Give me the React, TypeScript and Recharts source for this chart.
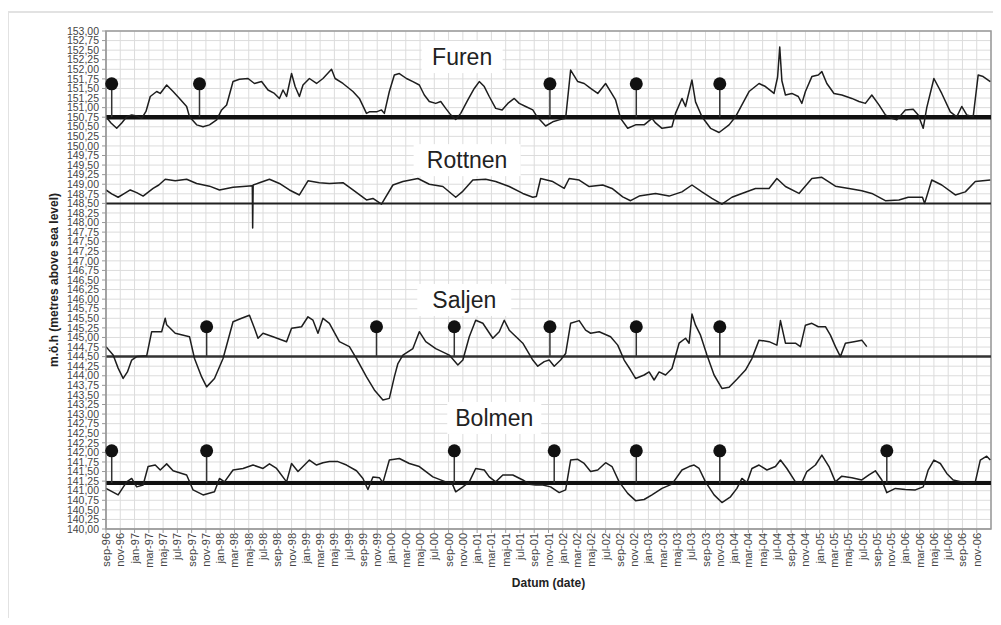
import React from "react";
import {
  ComposedChart,
  Line,
  XAxis,
  YAxis,
  CartesianGrid,
  ReferenceLine,
  ReferenceDot,
  ReferenceArea,
  Label,
} from "recharts";

// t = months after sep-96, v = water level (m.ö.h)
const furen: [number, number][] = [
  [0, 150.76], [0.7, 150.6], [1.5, 150.46], [2.2, 150.6], [2.9, 150.76], [3.6, 150.81], [4.3, 150.78], [5, 150.72],
  [5.6, 150.9], [6.2, 151.29], [7.1, 151.42], [7.6, 151.37], [8.5, 151.59], [9.4, 151.42], [10.3, 151.24], [11.3, 151.03],
  [11.7, 150.76], [12.7, 150.55], [13.6, 150.5], [14.5, 150.55], [15.5, 150.68], [16.2, 150.94], [16.9, 151.07], [17.8, 151.68],
  [18.7, 151.74], [19.9, 151.76], [20.8, 151.63], [21.8, 151.68], [22.7, 151.46], [23.6, 151.37], [24.3, 151.24], [24.8, 151.46],
  [25.3, 151.29], [26, 151.89], [26.5, 151.55], [27.1, 151.29], [27.6, 151.59], [28.5, 151.76], [29.5, 151.63], [30.4, 151.76],
  [31.6, 152.0], [32.1, 151.76], [33.2, 151.63], [34.6, 151.42], [35.5, 151.24], [36.5, 150.85], [36.9, 150.89], [37.9, 150.89],
  [38.6, 150.94], [39, 150.85], [39.7, 151.42], [40.4, 151.85], [41.1, 151.89], [42.1, 151.76], [43, 151.68], [43.9, 151.59],
  [44.6, 151.33], [45.3, 151.16], [46.2, 151.11], [46.9, 151.16], [47.6, 150.98], [48.3, 150.81], [49, 150.69], [49.7, 150.85],
  [50.7, 151.2], [51.6, 151.5], [52.3, 151.68], [53, 151.55], [53.7, 151.29], [54.6, 150.98], [55.5, 150.94], [56.3, 151.11],
  [57.2, 151.24], [57.9, 151.11], [58.8, 151.03], [59.8, 150.94], [60.4, 150.76], [61.6, 150.52], [62.6, 150.63], [63.5, 150.68],
  [64.4, 150.72], [65.1, 151.98], [66.1, 151.68], [67, 151.63], [67.9, 151.5], [68.9, 151.37], [70, 151.63], [70.7, 151.42],
  [71.4, 151.2], [72.1, 150.72], [73.1, 150.46], [74.2, 150.55], [75.4, 150.55], [76.5, 150.72], [77, 150.6], [77.9, 150.46],
  [79.3, 150.5], [79.8, 150.85], [80.7, 151.24], [81.2, 151.03], [82.1, 151.72], [82.6, 151.15], [83.5, 150.76], [84.7, 150.46],
  [85.9, 150.35], [87.3, 150.55], [88.2, 150.76], [89.1, 151.07], [90.1, 151.42], [91.5, 151.63], [92.4, 151.55], [93.6, 151.37],
  [94.1, 151.8], [94.4, 152.58], [94.7, 151.7], [95.2, 151.33], [96.1, 151.37], [97, 151.29], [97.5, 151.11], [98, 151.42],
  [98.9, 151.81], [99.8, 151.85], [100.3, 151.94], [101, 151.63], [102, 151.37], [103.1, 151.33], [104.5, 151.24], [105.5, 151.16],
  [106.4, 151.11], [107.3, 151.33], [108.3, 151.07], [109.2, 150.81], [110.1, 150.72], [110.8, 150.68], [112, 150.94], [113.1, 150.96],
  [113.8, 150.81], [114.5, 150.46], [115, 151.0], [116, 151.76], [117.1, 151.37], [118.3, 150.89], [119.2, 150.76], [119.9, 151.03],
  [120.6, 150.81], [121.5, 150.76], [122.2, 151.85], [122.9, 151.81], [123.9, 151.68],
];

const rottnen: [number, number][] = [
  [0, 148.85], [0.8, 148.75], [1.7, 148.66], [2.6, 148.76], [3.4, 148.85], [4.3, 148.78], [5.2, 148.69], [6.6, 148.89],
  [7.4, 148.98], [8.3, 149.13], [9.7, 149.09], [11.3, 149.13], [12.7, 149.02], [14.5, 148.95], [15.9, 148.85], [17.8, 148.92],
  [19.2, 148.94], [20.5, 148.96], [20.55, 147.86], [20.62, 148.98], [21.5, 149.04], [22.9, 149.13], [24.3, 149.02], [25.7, 148.85],
  [27.1, 148.72], [28.3, 149.09], [29.9, 149.04], [31.3, 149.02], [33.2, 149.04], [34.6, 148.85], [36.5, 148.59], [37.4, 148.63],
  [38.6, 148.48], [40.2, 148.98], [41.6, 149.07], [43.7, 149.15], [45.3, 149.0], [47.2, 148.94], [49, 148.66], [49.9, 148.8],
  [51.4, 149.11], [53.2, 149.13], [54.6, 149.07], [56.5, 148.94], [58.4, 148.76], [59.8, 148.66], [60.3, 148.68], [60.9, 149.15],
  [62.6, 149.07], [64.2, 148.89], [64.9, 149.15], [66.3, 149.11], [67.7, 148.94], [69.6, 148.98], [70.9, 148.89], [72.4, 148.67],
  [73.5, 148.57], [74.7, 148.69], [77, 148.76], [78.9, 148.69], [80.7, 148.8], [82.1, 148.98], [83.5, 148.8], [84.9, 148.63],
  [86.3, 148.48], [87.7, 148.66], [89.1, 148.76], [91, 148.89], [92.9, 148.89], [94, 149.15], [95.2, 148.94], [97.1, 148.76],
  [98.9, 149.15], [100.3, 149.18], [102.2, 148.95], [104.1, 148.89], [105.9, 148.83], [107.3, 148.76], [109.2, 148.57], [111.1, 148.59],
  [112.4, 148.66], [114.4, 148.66], [114.7, 148.5], [115.7, 149.11], [117.1, 148.98], [119, 148.72], [120.4, 148.8], [121.8, 149.07],
  [123.9, 149.11],
];

const saljen: [number, number][] = [
  [0, 144.76], [1, 144.54], [1.7, 144.2], [2.4, 143.93], [3, 144.1], [3.6, 144.41], [4.3, 144.5], [5.7, 144.52],
  [6.4, 145.15], [7.8, 145.15], [8.3, 145.5], [8.5, 145.33], [9.7, 145.11], [11.7, 145.02], [12.4, 144.45], [13.4, 143.97],
  [14.1, 143.71], [15.2, 143.93], [16.4, 144.45], [17.8, 145.41], [19, 145.5], [20.1, 145.58], [20.8, 145.24], [21.3, 144.98],
  [22, 145.11], [23.4, 145.02], [25.3, 144.89], [26, 145.24], [27.4, 145.28], [28.3, 145.54], [29, 145.45], [29.7, 145.11],
  [30.4, 145.5], [31.3, 145.37], [32.7, 144.89], [34.1, 144.76], [35.1, 144.45], [36.5, 143.97], [37.6, 143.63], [38.8, 143.37],
  [39.7, 143.41], [40.4, 143.97], [40.9, 144.32], [41.6, 144.54], [43, 144.71], [43.9, 145.15], [44.8, 144.89], [46.2, 144.71],
  [48.1, 144.54], [49.3, 144.28], [50, 144.41], [50.9, 145.02], [51.8, 145.45], [52.8, 145.37], [54.2, 144.98], [55.1, 145.15],
  [55.8, 145.45], [56.5, 145.19], [58.4, 144.85], [59.8, 144.41], [60.5, 144.25], [61.4, 144.37], [62.1, 144.41], [62.8, 144.25],
  [63.7, 144.41], [64.4, 144.58], [65.1, 145.37], [66.3, 145.44], [67.2, 145.19], [67.9, 145.11], [69.1, 145.15], [70.7, 145.02],
  [71.7, 144.8], [72.6, 144.41], [73.5, 144.15], [74.2, 143.93], [75.4, 144.02], [76.1, 144.1], [76.8, 143.89], [77.5, 144.1],
  [78.4, 144.02], [79.3, 144.19], [80.3, 144.85], [81.2, 144.98], [81.7, 144.85], [82.1, 145.61], [82.6, 145.32], [83.3, 145.06],
  [84.2, 144.54], [85.2, 144.02], [86.3, 143.67], [87.3, 143.7], [88.4, 143.91], [89.6, 144.15], [90.5, 144.45], [91.5, 144.93],
  [92.9, 144.89], [94, 144.8], [94.5, 145.44], [95.2, 144.85], [96.6, 144.85], [97.3, 144.76], [98, 145.32], [98.9, 145.37],
  [99.8, 145.28], [100.8, 145.28], [101.5, 145.06], [102.2, 144.76], [102.9, 144.5], [103.6, 144.85], [104.8, 144.89], [105.9, 144.93],
  [106.6, 144.76],
];

const bolmen: [number, number][] = [
  [0, 141.06], [1.7, 140.89], [2.9, 141.23], [3.6, 141.32], [4.3, 141.1], [5.2, 141.15], [5.9, 141.63], [6.9, 141.67],
  [7.6, 141.54], [8.5, 141.7], [9.4, 141.52], [11.3, 141.41], [12.2, 141.02], [13.6, 140.89], [15.2, 140.97], [15.9, 141.32],
  [16.6, 141.23], [17.8, 141.54], [19.2, 141.58], [20.6, 141.67], [22, 141.58], [22.9, 141.7], [23.9, 141.58], [25.3, 141.23],
  [26, 141.71], [26.9, 141.5], [28.5, 141.8], [29.5, 141.67], [30.4, 141.73], [31.3, 141.76], [32.5, 141.76], [33.7, 141.67],
  [35.1, 141.52], [36, 141.32], [36.7, 141.03], [37.4, 141.36], [38.3, 141.34], [38.8, 141.21], [39.7, 141.8], [41.1, 141.84],
  [42.5, 141.71], [43.9, 141.63], [45.8, 141.36], [47.6, 141.23], [48.5, 141.19], [49, 140.97], [50, 141.1], [50.9, 141.23],
  [51.8, 141.58], [53, 141.54], [53.7, 141.36], [54.6, 141.23], [55.6, 141.41], [57, 141.41], [58.4, 141.28], [59.3, 141.17],
  [60.2, 141.15], [61.2, 141.15], [62.3, 141.1], [63.5, 140.95], [64.4, 141.02], [65.1, 141.8], [66.1, 141.82], [67, 141.71],
  [67.9, 141.5], [68.9, 141.54], [70, 141.73], [70.9, 141.63], [71.9, 141.23], [73.1, 140.93], [74.2, 140.74], [75.4, 140.77],
  [76.5, 140.89], [77.9, 141.06], [79.3, 141.17], [80.7, 141.54], [81.7, 141.63], [82.4, 141.67], [83.1, 141.58], [84, 141.23],
  [85.2, 140.89], [86.3, 140.69], [87.5, 140.84], [88.4, 141.06], [89.1, 141.32], [89.8, 141.21], [90.5, 141.58], [91.5, 141.67],
  [92.6, 141.54], [93.8, 141.63], [94.5, 141.8], [95.4, 141.58], [96.6, 141.23], [97.5, 141.21], [98.2, 141.5], [99.4, 141.67],
  [100.3, 141.93], [101.3, 141.63], [102.2, 141.23], [103.1, 141.38], [104.5, 141.34], [105.9, 141.28], [106.9, 141.41], [107.8, 141.52],
  [108.7, 141.28], [109.4, 140.95], [110.6, 141.06], [112, 141.03], [113.4, 141.02], [114.5, 141.1], [115.2, 141.54], [116, 141.8],
  [116.9, 141.71], [117.8, 141.45], [118.7, 141.28], [119.9, 141.23], [120.8, 141.19], [121.8, 141.23], [122.5, 141.8], [123.4, 141.9],
  [123.9, 141.8],
];

// reference levels and pin markers
const refLevels = { furen: 150.75, rottnen: 148.5, saljen: 144.5, bolmen: 141.2 };
const furenPins = [0.8, 13.1, 62.2, 74.3, 86];
const saljenPins = [14.1, 37.9, 48.8, 62.2, 74.3, 86];
const bolmenPins = [0.8, 14.1, 48.8, 62.8, 74.3, 86, 109.4];
const pinTops = { furen: 151.62, saljen: 145.28, bolmen: 142.04 };

const lakeNames = ["Furen", "Rottnen", "Saljen", "Bolmen"];
const lakeNameT = [49.9, 50.6, 50.2, 54.4];
const lakeNameV = [152.11, 149.42, 145.77, 142.69];

const monthNames = ["jan", "feb", "mar", "apr", "maj", "jun", "jul", "aug", "sep", "okt", "nov", "dec"];
const xTicks = Array.from({ length: 62 }, (_, i) => i * 2);
const yTicks = Array.from({ length: 53 }, (_, i) => 140 + i * 0.25);

const monthLabel = (t: number) => {
  const m = 8 + t;
  const yr = (96 + Math.floor(m / 12)) % 100;
  return `${monthNames[m % 12]}-${String(yr).padStart(2, "0")}`;
};

const pts = (arr: [number, number][]) => arr.map(([t, v]) => ({ t, v }));

const FONT = "'Liberation Sans', Arial, sans-serif";

const XTick = ({ x, y, payload }: any) => (
  <text
    transform={`translate(${x + 4},${y}) rotate(-90)`}
    textAnchor="end"
    fontSize={11}
    fontFamily={FONT}
    fill="#444"
  >
    {monthLabel(payload.value)}
  </text>
);

const NameTag = (name: string) => (props: any) => {
  const { cx, cy } = props;
  const w = name.length * 13 + 16;
  return (
    <g>
      <rect x={cx - w / 2} y={cy - 24} width={w} height={32} fill="#fff" />
      <text x={cx} y={cy} textAnchor="middle" fontSize={23} fontFamily={FONT} fill="#222">
        {name}
      </text>
    </g>
  );
};

const pinSet = (ts: number[], base: number, top: number, key: string) =>
  ts.flatMap((t, i) => [
    <ReferenceLine
      key={`${key}-l${i}`}
      segment={[{ x: t, y: base }, { x: t, y: top }]}
      stroke="#333"
      strokeWidth={1.5}
    />,
    <ReferenceDot key={`${key}-d${i}`} x={t} y={top} r={6.5} fill="#111" stroke="none" />,
  ]);

const lineProps = {
  dataKey: "v",
  type: "linear" as const,
  stroke: "#1e1e1e",
  strokeWidth: 1.5,
  strokeLinejoin: "round" as const,
  dot: false,
  isAnimationActive: false,
};

export default function App() {
  return (
    <div style={{ position: "relative", width: 993, height: 610 }}>
      <div
        style={{
          position: "absolute",
          left: -1,
          top: 3,
          width: 994,
          height: 606,
          borderLeft: "2px solid #e2e2e2",
          borderTop: "2px solid #e2e2e2",
        }}
      />
      <ComposedChart
        width={993}
        height={610}
        margin={{ top: 23, right: 10, left: 32, bottom: 44 }}
        style={{ position: "absolute", left: 0, top: 0 }}
      >
        <CartesianGrid stroke="#dcdcdc" strokeWidth={1} />
        <XAxis
          dataKey="t"
          type="number"
          domain={[0, 124]}
          ticks={xTicks}
          interval={0}
          tick={<XTick />}
          tickSize={4}
          tickMargin={0}
          height={45}
          axisLine={{ stroke: "#999" }}
          tickLine={{ stroke: "#999" }}
          allowDataOverflow
        >
          <Label
            value="Datum (date)"
            position="bottom"
            offset={4}
            style={{ fontSize: 12, fontWeight: "bold", fontFamily: FONT, fill: "#222" }}
          />
        </XAxis>
        <YAxis
          type="number"
          domain={[140, 153]}
          ticks={yTicks}
          interval={0}
          width={66}
          tickSize={4}
          tickMargin={3}
          tickFormatter={(v: number) => v.toFixed(2).replace(".", ",")}
          tick={{ fontSize: 10.5, fontFamily: FONT, fill: "#444" }}
          axisLine={{ stroke: "#999" }}
          tickLine={{ stroke: "#999" }}
          allowDataOverflow
        >
          <Label
            value="m.ö.h (metres above sea level)"
            angle={-90}
            position="insideLeft"
            offset={14}
            style={{ textAnchor: "middle", fontSize: 12, fontWeight: "bold", fontFamily: FONT, fill: "#222" }}
          />
        </YAxis>
        <ReferenceArea x1={0} x2={124} y1={140} y2={153} fill="none" stroke="#999" strokeWidth={1.5} />

        {lakeNames.map((n, i) => (
          <ReferenceDot key={n} x={lakeNameT[i]} y={lakeNameV[i]} r={0} shape={NameTag(n)} />
        ))}

        <ReferenceLine y={refLevels.furen} stroke="#111" strokeWidth={4.5} />
        <ReferenceLine y={refLevels.rottnen} stroke="#222" strokeWidth={2} />
        <ReferenceLine y={refLevels.saljen} stroke="#333" strokeWidth={2.5} />
        <ReferenceLine y={refLevels.bolmen} stroke="#111" strokeWidth={4} />

        {pinSet(furenPins, refLevels.furen, pinTops.furen, "f")}
        {pinSet(saljenPins, refLevels.saljen, pinTops.saljen, "s")}
        {pinSet(bolmenPins, refLevels.bolmen, pinTops.bolmen, "b")}

        <Line data={pts(furen)} {...lineProps} />
        <Line data={pts(rottnen)} {...lineProps} />
        <Line data={pts(saljen)} {...lineProps} />
        <Line data={pts(bolmen)} {...lineProps} />
      </ComposedChart>
    </div>
  );
}
